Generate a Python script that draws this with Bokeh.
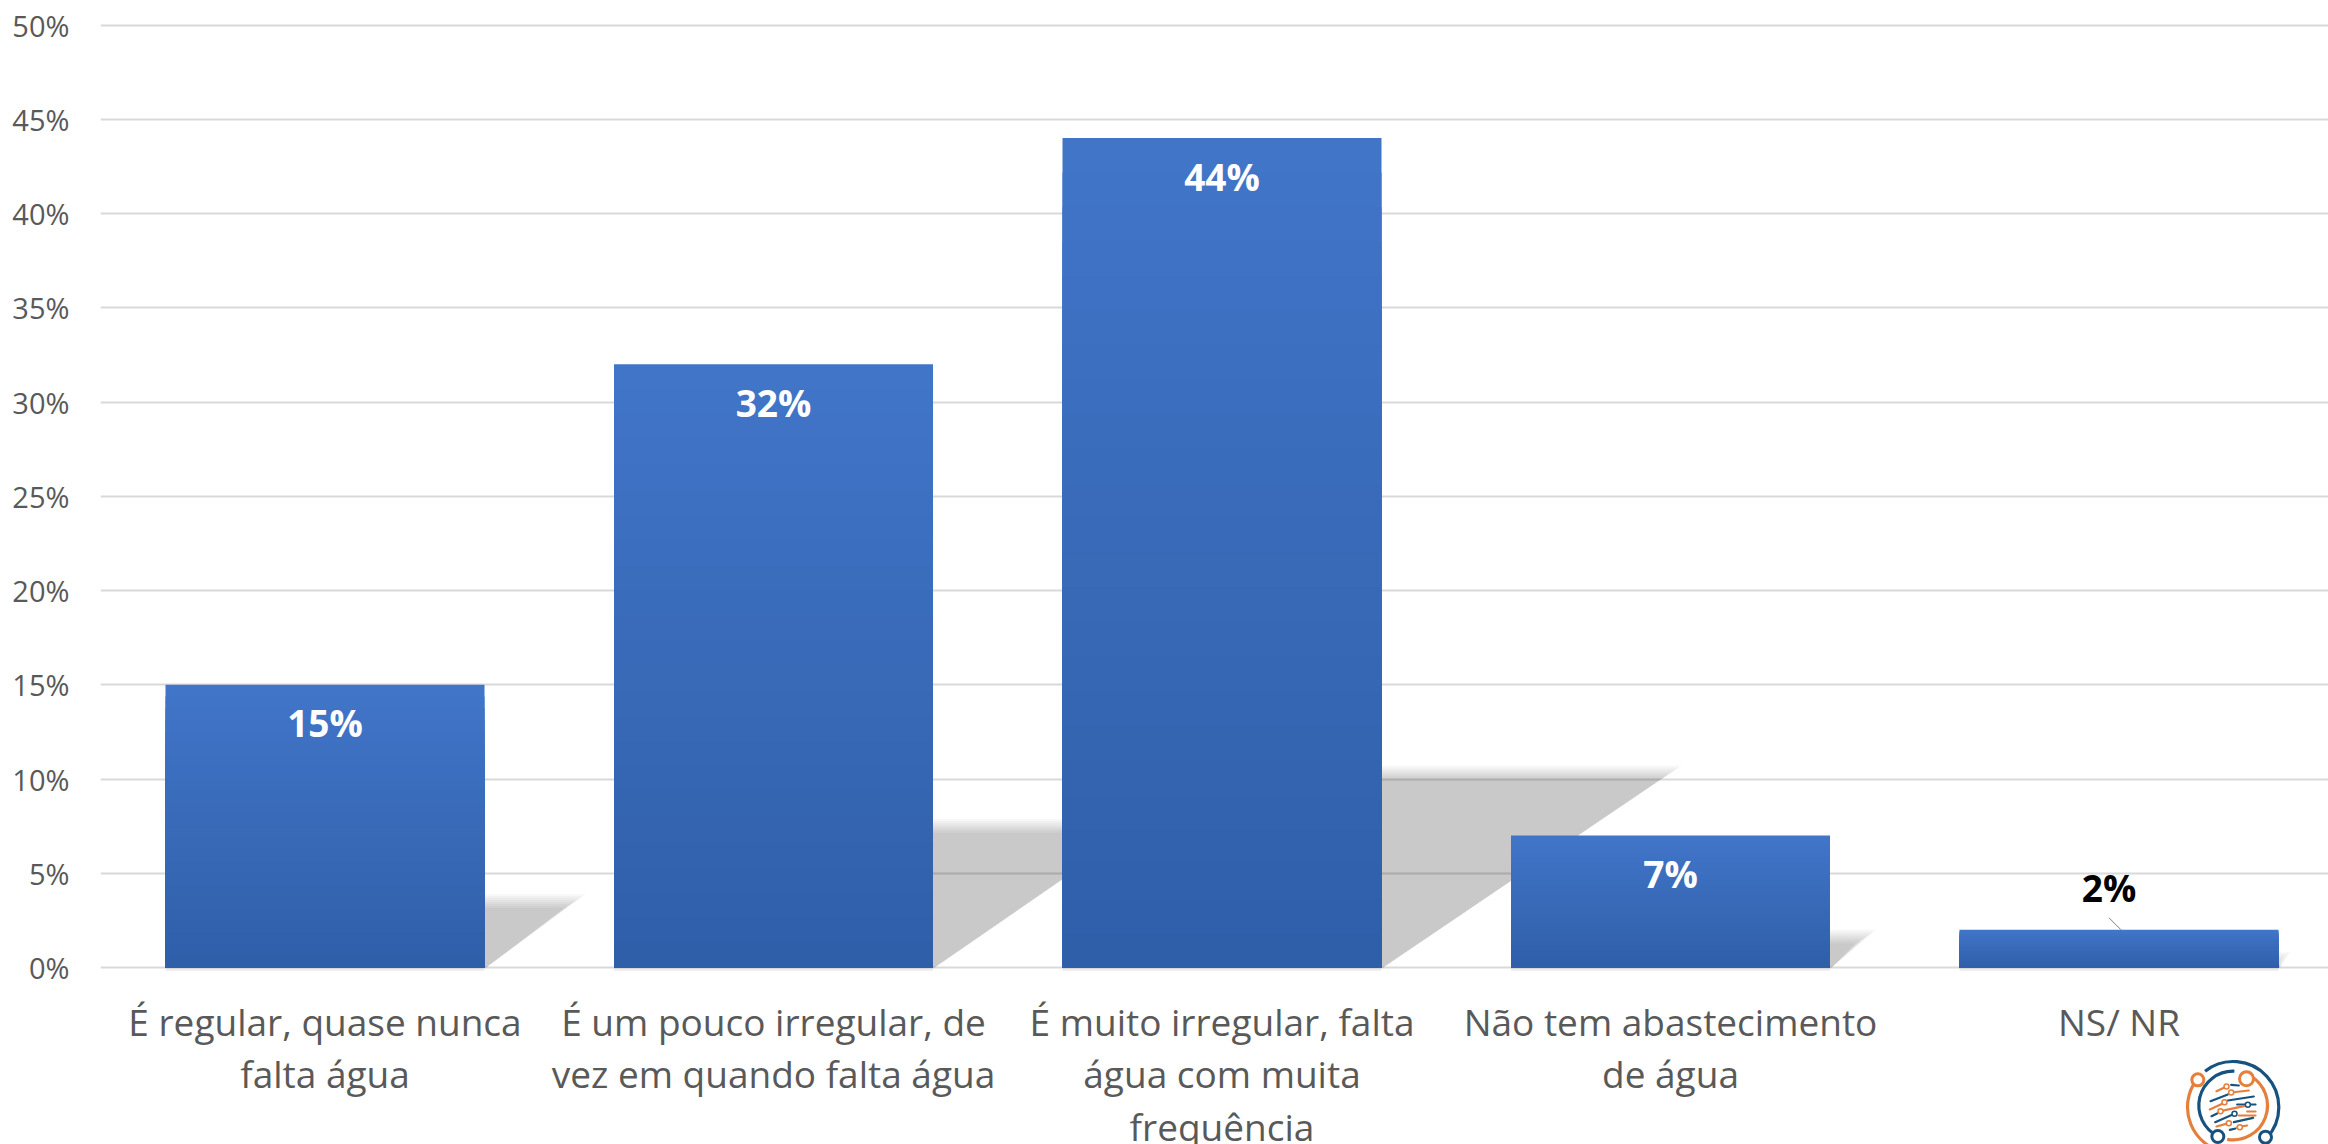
from bokeh.plotting import figure
from bokeh.embed import file_html
from bokeh.resources import INLINE
from bokeh.models import Range1d, FixedTicker, ColumnDataSource
from bokeh.core.properties import value as pv
import math

categories = ["É regular, quase nunca\nfalta água",
              "É um pouco irregular, de\nvez em quando falta água",
              "É muito irregular, falta\nágua com muita\nfrequência",
              "Não tem abastecimento\nde água",
              "NS/ NR"]
values = [15, 32, 44, 7, 2]
value_labels = ["15%", "32%", "44%", "7%", "2%"]
y_ticks = [0, 5, 10, 15, 20, 25, 30, 35, 40, 45, 50]

FONT = "Open Sans"
W, H = 2328, 1144
PX_X, PX_Y = 448.5, 18.85       # pixels per category, per percent
FIRST_X, ZERO_Y = 324.5, 967.0  # picture position of first category and of 0%
LEFT, TOP = 100, 14

def X(px):
    return (px - FIRST_X) / PX_X

def Y(py):
    return (ZERO_Y - py) / PX_Y

p = figure(width=W, height=H, output_backend="svg", toolbar_location=None,
           x_range=Range1d(X(LEFT), X(W)), y_range=Range1d(Y(H), Y(TOP)),
           min_border_left=LEFT, min_border_right=0, min_border_top=TOP,
           min_border_bottom=0, outline_line_color=None, background_fill_color="white",
           border_fill_color="white")

p.xgrid.visible = False
p.ygrid.ticker = FixedTicker(ticks=y_ticks)
p.ygrid.grid_line_color = "#d9d9d9"
p.ygrid.grid_line_width = 2

ya = p.yaxis[0]
ya.ticker = FixedTicker(ticks=y_ticks)
ya.major_label_overrides = {t: f"{t}%" for t in y_ticks}
ya.axis_line_color = None
ya.major_tick_line_color = None
ya.minor_tick_line_color = None
ya.major_tick_out = 0
ya.major_tick_in = 0
ya.major_label_text_font = FONT
ya.major_label_text_font_size = "29px"
ya.major_label_text_color = "#595959"
ya.major_label_standoff = 31

xa = p.xaxis[0]
xa.fixed_location = 0
xa.ticker = FixedTicker(ticks=list(range(len(categories))))
xa.major_label_overrides = {i: c for i, c in enumerate(categories)}
xa.axis_line_color = None
xa.major_tick_line_color = None
xa.minor_tick_line_color = None
xa.major_tick_out = 0
xa.major_tick_in = 0
xa.major_label_text_font = FONT
xa.major_label_text_font_size = "37px"
xa.major_label_text_color = "#595959"
xa.major_label_standoff = 28
xa.major_label_text_line_height = 1.03

# soft shadows cast behind the bars
BAR_W = 319 / PX_X
SHADOW = 0.235
for d_px in [7, 5, 3, 1, -1, -3, -5, -7]:
    xs, ys = [], []
    for i, v in enumerate(values):
        core_px = v * SHADOW * PX_Y
        h = max(core_px + d_px, 0) / PX_Y
        right = i + BAR_W / 2
        dx = 1.55 * max(core_px - 8 + d_px, 0) / PX_X
        xs.append([right, right, right + dx, right + 0.004])
        ys.append([0, h, h, 0])
    p.patches(xs, ys, fill_color="black", fill_alpha=0.027, line_color=None)

# faint shadow under each bar
p.quad(left=[i - BAR_W / 2 for i in range(len(values))],
       right=[i + BAR_W / 2 for i in range(len(values))],
       top=[0] * len(values), bottom=[-0.17] * len(values),
       fill_color="black", fill_alpha=0.08, line_color=None)

# bars with a vertical gradient: nested bands painted tallest first
BANDS = 24
C_TOP = (65, 117, 200)
C_BOT = (47, 94, 168)
for k in range(BANDS):
    f = 1 - k / BANDS
    col = tuple(round(b + (t - b) * f) for t, b in zip(C_TOP, C_BOT))
    p.quad(left=[i - BAR_W / 2 for i in range(len(values))],
           right=[i + BAR_W / 2 for i in range(len(values))],
           top=[v * f for v in values], bottom=[0] * len(values),
           fill_color="#%02x%02x%02x" % col, line_color=None)

# data labels
src = ColumnDataSource(dict(
    x=list(range(len(values))), y=values, t=value_labels,
    c=["white" if v >= 5 else "black" for v in values],
    xo=[0 if v >= 5 else -10 for v in values],
    yo=[38 if v >= 5 else -42 for v in values]))
p.text("x", "y", text="t", source=src, text_color="c", x_offset="xo", y_offset="yo",
       text_align="center", text_baseline="middle", text_font=pv(FONT),
       text_font_style="bold", text_font_size="37px")

# leader line of the small bar
for i, v in enumerate(values):
    if v < 5:
        p.segment(i - 10 / PX_X, v + 12 / PX_Y, i + 2 / PX_X, v, line_color="#7f7f7f", line_width=1)

# logo
BLUE, ORANGE = "#17527f", "#e67e3c"
ox, oy = 2140, 1040
def LX(z):
    return X(ox + z / 3)
def LY(z):
    return Y(oy + z / 3)
def arc(cx, cy, r, a0, a1, col, w=3.2):
    p.arc(LX(cx), LY(cy), radius=r / 3, radius_units="screen",
          start_angle=math.radians(a0), end_angle=math.radians(a1),
          line_color=col, line_width=w)
arc(278, 200, 137, -43, 128, BLUE)
arc(278, 200, 137, 142, 262, ORANGE)
arc(278, 195, 103, 88, 245, BLUE)
arc(278, 195, 103, -100, 60, ORANGE)
strokes = [
    (228, 152, 258, 138, ORANGE), (272, 133, 295, 135, BLUE), (272, 156, 325, 150, ORANGE),
    (210, 182, 262, 162, BLUE), (262, 180, 340, 168, BLUE), (208, 207, 255, 185, ORANGE),
    (290, 192, 345, 192, BLUE), (240, 212, 310, 197, ORANGE), (213, 227, 230, 219, BLUE),
    (320, 213, 345, 213, ORANGE), (224, 245, 282, 220, BLUE), (295, 225, 345, 225, ORANGE),
    (280, 245, 338, 232, BLUE), (228, 258, 265, 248, ORANGE), (268, 268, 285, 264, BLUE),
    (290, 260, 320, 255, ORANGE),
]
for x0, y0, x1, y1, col in strokes:
    p.segment(LX(x0), LY(y0), LX(x1), LY(y1), line_color=col, line_width=2.2, line_cap="round")
rings = [(172, 118, 12, ORANGE), (318, 115, 14, ORANGE), (232, 288, 12, BLUE), (375, 290, 12, BLUE),
         (258, 138, 5, ORANGE), (272, 156, 5, ORANGE), (252, 185, 5, ORANGE), (240, 212, 5, ORANGE),
         (322, 193, 5, BLUE), (282, 220, 5, BLUE), (265, 248, 5, ORANGE), (298, 260, 5, ORANGE)]
for cx, cy, d, col in rings:
    p.scatter([LX(cx)], [LY(cy)], size=d, fill_color="white", line_color=col,
              line_width=3 if d > 6 else 1.5)

open("out.html", "w").write(file_html(p, INLINE))
